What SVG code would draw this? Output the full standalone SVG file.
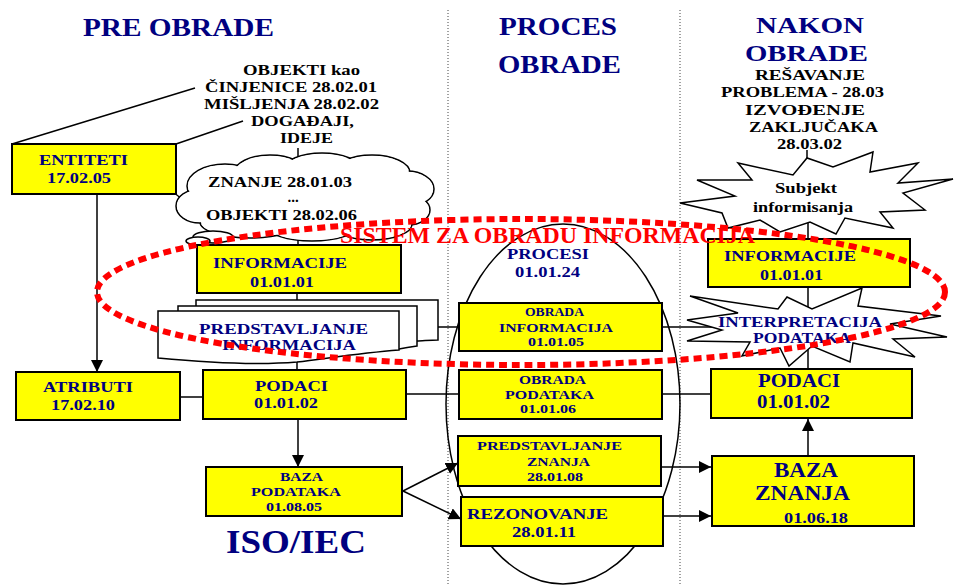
<svg xmlns="http://www.w3.org/2000/svg" width="956" height="586" viewBox="0 0 956 586">
<style>
.t{font-family:"Liberation Serif","Times New Roman","DejaVu Serif",serif;font-weight:bold;text-anchor:middle}
.nv{fill:#000080}
.bk{fill:#000}
.rd{fill:#FF0000}
.box{fill:#FFFF00;stroke:#000;stroke-width:2}
.ln{stroke:#000;stroke-width:1.5;fill:none}
.sh{fill:#fff;stroke:#000;stroke-width:1.5}
.dot{stroke:#444;stroke-width:1;stroke-dasharray:1 2;fill:none}
</style>
<defs>
<marker id="ah" viewBox="0 0 12 12" refX="12" refY="6" markerWidth="12" markerHeight="12" markerUnits="userSpaceOnUse" orient="auto">
<path d="M0,0 L12,6 L0,12 Z" fill="#000"/>
</marker>
</defs>
<rect width="956" height="586" fill="#fff"/>
<g id="dividers">
<line class="dot" x1="448" y1="10" x2="448" y2="586"/>
<line class="dot" x1="680" y1="10" x2="680" y2="586"/>
</g>
<g id="titles">
<text class="t nv" x="178.5" y="36" font-size="26" textLength="191" lengthAdjust="spacingAndGlyphs">PRE OBRADE</text>
<text class="t nv" x="558" y="35" font-size="26" textLength="118" lengthAdjust="spacingAndGlyphs">PROCES</text>
<text class="t nv" x="559.5" y="73" font-size="26" textLength="123" lengthAdjust="spacingAndGlyphs">OBRADE</text>
<text class="t nv" x="810" y="33" font-size="24" textLength="108" lengthAdjust="spacingAndGlyphs">NAKON</text>
<text class="t nv" x="806.5" y="61" font-size="24" textLength="123" lengthAdjust="spacingAndGlyphs">OBRADE</text>
<text class="t nv" x="296" y="553" font-size="33" textLength="140" lengthAdjust="spacingAndGlyphs">ISO/IEC</text>
</g>
<g id="notes">
<text class="t bk" x="810" y="80" font-size="14" textLength="110" lengthAdjust="spacingAndGlyphs">REŠAVANJE</text>
<text class="t bk" x="802.5" y="97" font-size="14" textLength="163" lengthAdjust="spacingAndGlyphs">PROBLEMA - 28.03</text>
<text class="t bk" x="805" y="115" font-size="14" textLength="120" lengthAdjust="spacingAndGlyphs">IZVOĐENJE</text>
<text class="t bk" x="813.5" y="132" font-size="14" textLength="129" lengthAdjust="spacingAndGlyphs">ZAKLJUČAKA</text>
<text class="t bk" x="809.5" y="149" font-size="14" textLength="65" lengthAdjust="spacingAndGlyphs">28.03.02</text>
<text class="t bk" x="301.5" y="75" font-size="15" textLength="117" lengthAdjust="spacingAndGlyphs">OBJEKTI kao</text>
<text class="t bk" x="291" y="92" font-size="15" textLength="172" lengthAdjust="spacingAndGlyphs">ČINJENICE 28.02.01</text>
<text class="t bk" x="291.5" y="109" font-size="15" textLength="175" lengthAdjust="spacingAndGlyphs">MIŠLJENJA 28.02.02</text>
<text class="t bk" x="302.5" y="126" font-size="15" textLength="103" lengthAdjust="spacingAndGlyphs">DOGAĐAJI,</text>
<text class="t bk" x="306.5" y="143" font-size="15" textLength="53" lengthAdjust="spacingAndGlyphs">IDEJE</text>
</g>
<ellipse id="procesi-ellipse" cx="563" cy="404" rx="117" ry="180" class="ln"/>
<g id="connectors">
<line class="ln" x1="12" y1="144" x2="195" y2="88"/>
<line class="ln" x1="176" y1="144" x2="243" y2="121"/>
<line class="ln" x1="298" y1="148" x2="298" y2="162"/>
<path class="ln" d="M170,190 Q185,200 195,214"/>
<line class="ln" x1="298" y1="226" x2="298" y2="245"/>
<line class="ln" x1="297" y1="293" x2="297" y2="302"/>
<line class="ln" x1="297" y1="360" x2="297" y2="370"/>
<line class="ln" x1="402" y1="327" x2="460" y2="327"/>
<line class="ln" x1="175" y1="397" x2="208" y2="397"/>
<line class="ln" x1="406" y1="394" x2="460" y2="394"/>
<line class="ln" x1="662" y1="327" x2="715" y2="327"/>
<line class="ln" x1="662" y1="394" x2="711" y2="394"/>
<line class="ln" x1="807" y1="150" x2="807" y2="165"/>
<line class="ln" x1="808" y1="220" x2="808" y2="239"/>
<line class="ln" x1="808" y1="287" x2="808" y2="369"/>
<line class="ln" x1="97" y1="194" x2="97" y2="372" marker-end="url(#ah)"/>
<line class="ln" x1="298" y1="420" x2="298" y2="467" marker-end="url(#ah)"/>
<line class="ln" x1="403" y1="491" x2="458" y2="463" marker-end="url(#ah)"/>
<line class="ln" x1="403" y1="491" x2="461" y2="519" marker-end="url(#ah)"/>
<line class="ln" x1="662" y1="467" x2="711" y2="467" marker-end="url(#ah)"/>
<line class="ln" x1="664" y1="516" x2="711" y2="516" marker-end="url(#ah)"/>
<line class="ln" x1="808" y1="455" x2="808" y2="419" marker-end="url(#ah)"/>
</g>
<g id="cloud-znanje">
<g class="sh">
<ellipse cx="225" cy="186" rx="38" ry="22"/>
<ellipse cx="270" cy="173" rx="36" ry="18"/>
<ellipse cx="322" cy="169" rx="38" ry="16"/>
<ellipse cx="372" cy="173" rx="38" ry="18"/>
<ellipse cx="407" cy="189" rx="27" ry="18"/>
<ellipse cx="408" cy="210" rx="22" ry="15"/>
<ellipse cx="372" cy="224" rx="40" ry="16"/>
<ellipse cx="312" cy="226" rx="45" ry="15"/>
<ellipse cx="250" cy="222" rx="50" ry="16"/>
<ellipse cx="200" cy="206" rx="24" ry="17"/>
</g>
<g fill="#fff">
<ellipse cx="225" cy="186" rx="37" ry="21"/>
<ellipse cx="270" cy="173" rx="35" ry="17"/>
<ellipse cx="322" cy="169" rx="37" ry="15"/>
<ellipse cx="372" cy="173" rx="37" ry="17"/>
<ellipse cx="407" cy="189" rx="26" ry="17"/>
<ellipse cx="408" cy="210" rx="21" ry="14"/>
<ellipse cx="372" cy="224" rx="39" ry="15"/>
<ellipse cx="312" cy="226" rx="44" ry="14"/>
<ellipse cx="250" cy="222" rx="49" ry="15"/>
<ellipse cx="200" cy="206" rx="23" ry="16"/>
<rect x="205" y="180" width="200" height="40"/>
</g>
<ellipse class="sh" cx="213" cy="237" rx="20" ry="6"/>
<ellipse class="sh" cx="198" cy="241" rx="12" ry="4"/>
<text class="t bk" x="280" y="187" font-size="15" textLength="144" lengthAdjust="spacingAndGlyphs">ZNANJE 28.01.03</text>
<text class="t bk" x="293" y="202" font-size="15">...</text>
<text class="t bk" x="281.5" y="220" font-size="15" textLength="151" lengthAdjust="spacingAndGlyphs">OBJEKTI 28.02.06</text>
</g>
<g id="entiteti">
<rect class="box" x="12" y="144" width="164" height="50"/>
<text class="t nv" x="83.5" y="165" font-size="15" textLength="89" lengthAdjust="spacingAndGlyphs">ENTITETI</text>
<text class="t nv" x="79" y="183" font-size="15" textLength="64" lengthAdjust="spacingAndGlyphs">17.02.05</text>
</g>
<g id="informacije-pre">
<rect class="box" x="197" y="245" width="204" height="48"/>
<text class="t nv" x="280" y="268" font-size="15" textLength="134" lengthAdjust="spacingAndGlyphs">INFORMACIJE</text>
<text class="t nv" x="282" y="287" font-size="15" textLength="64" lengthAdjust="spacingAndGlyphs">01.01.01</text>
</g>
<g id="predstavljanje-informacija">
<path class="sh" d="M196,300 H438 V340 C430,340 422,341 417,341 L196,341 Z"/>
<path class="sh" d="M178,306 H417 V346 C410,347 404,348 399,349 L178,349 Z"/>
<path class="sh" d="M158,311 H399 V350 C360,353 330,358 297,362 C250,366 200,362 158,358 Z"/>
<text class="t nv" x="283.5" y="334" font-size="15" textLength="169" lengthAdjust="spacingAndGlyphs">PREDSTAVLJANJE</text>
<text class="t nv" x="289" y="350" font-size="15" textLength="134" lengthAdjust="spacingAndGlyphs">INFORMACIJA</text>
</g>
<g id="atributi">
<rect class="box" x="16" y="372" width="164" height="48"/>
<text class="t nv" x="88" y="392" font-size="15" textLength="90" lengthAdjust="spacingAndGlyphs">ATRIBUTI</text>
<text class="t nv" x="83" y="410" font-size="15" textLength="64" lengthAdjust="spacingAndGlyphs">17.02.10</text>
</g>
<g id="podaci-pre">
<rect class="box" x="203" y="370" width="203" height="49"/>
<text class="t nv" x="291.5" y="391" font-size="15" textLength="73" lengthAdjust="spacingAndGlyphs">PODACI</text>
<text class="t nv" x="286" y="408" font-size="15" textLength="64" lengthAdjust="spacingAndGlyphs">01.01.02</text>
</g>
<g id="baza-podataka">
<rect class="box" x="206" y="467" width="196" height="49"/>
<text class="t nv" x="301.5" y="481" font-size="12" textLength="43" lengthAdjust="spacingAndGlyphs">BAZA</text>
<text class="t nv" x="296" y="496" font-size="12" textLength="90" lengthAdjust="spacingAndGlyphs">PODATAKA</text>
<text class="t nv" x="294" y="511" font-size="12" textLength="56" lengthAdjust="spacingAndGlyphs">01.08.05</text>
</g>
<g id="procesi">
<text class="t nv" x="548" y="259" font-size="14" textLength="82" lengthAdjust="spacingAndGlyphs">PROCESI</text>
<text class="t nv" x="547.5" y="277" font-size="14" textLength="65" lengthAdjust="spacingAndGlyphs">01.01.24</text>
</g>
<g id="obrada-informacija">
<rect class="box" x="459" y="303" width="203" height="48"/>
<text class="t nv" x="554.5" y="316" font-size="12" textLength="59" lengthAdjust="spacingAndGlyphs">OBRADA</text>
<text class="t nv" x="556" y="332" font-size="12" textLength="114" lengthAdjust="spacingAndGlyphs">INFORMACIJA</text>
<text class="t nv" x="556" y="346" font-size="12" textLength="56" lengthAdjust="spacingAndGlyphs">01.01.05</text>
</g>
<g id="obrada-podataka">
<rect class="box" x="459" y="370" width="203" height="49"/>
<text class="t nv" x="552.5" y="384" font-size="12" textLength="67" lengthAdjust="spacingAndGlyphs">OBRADA</text>
<text class="t nv" x="549.5" y="399" font-size="12" textLength="89" lengthAdjust="spacingAndGlyphs">PODATAKA</text>
<text class="t nv" x="548" y="413" font-size="12" textLength="56" lengthAdjust="spacingAndGlyphs">01.01.06</text>
</g>
<g id="predstavljanje-znanja">
<rect class="box" x="458" y="436" width="203" height="50"/>
<text class="t nv" x="549.5" y="450" font-size="12" textLength="145" lengthAdjust="spacingAndGlyphs">PREDSTAVLJANJE</text>
<text class="t nv" x="558.5" y="466" font-size="12" textLength="63" lengthAdjust="spacingAndGlyphs">ZNANJA</text>
<text class="t nv" x="555" y="481" font-size="12" textLength="56" lengthAdjust="spacingAndGlyphs">28.01.08</text>
</g>
<g id="rezonovanje">
<rect class="box" x="461" y="497" width="202" height="49"/>
<text class="t nv" x="537.5" y="519" font-size="15" textLength="141" lengthAdjust="spacingAndGlyphs">REZONOVANJE</text>
<text class="t nv" x="544" y="537" font-size="15" textLength="64" lengthAdjust="spacingAndGlyphs">28.01.11</text>
</g>
<g id="subjekt-informisanja">
<path class="sh" d="M680,203 L735,196 L697,180 L752,180 L738,163 L793,175 L807,158 L833,167 L873,152 L870,172 L918,163 L898,183 L953,179 L903,193 L925,210 L880,212 L893,228 L845,218 L836,234 L810,222 L780,232 L760,220 L728,228 L722,213 Z"/>
<text class="t bk" x="806" y="193" font-size="15" textLength="62" lengthAdjust="spacingAndGlyphs">Subjekt</text>
<text class="t bk" x="803" y="212" font-size="15" textLength="100" lengthAdjust="spacingAndGlyphs">informisanja</text>
</g>
<g id="informacije-nakon">
<rect class="box" x="708" y="239" width="202" height="48"/>
<text class="t nv" x="790" y="261" font-size="15" textLength="132" lengthAdjust="spacingAndGlyphs">INFORMACIJE</text>
<text class="t nv" x="791.5" y="280" font-size="15" textLength="63" lengthAdjust="spacingAndGlyphs">01.01.01</text>
</g>
<g id="interpretacija-podataka">
<path class="sh" d="M690,296 L778,309 L787,297 L812,309 L862,288 L858,306 L941,316 L890,324 L947,337 L893,339 L915,357 L853,343 L850,362 L812,346 L789,366 L780,348 L742,356 L750,342 L687,341 L722,330 L687,320 L738,313 Z"/>
<text class="t nv" x="800" y="327" font-size="15" textLength="164" lengthAdjust="spacingAndGlyphs">INTERPRETACIJA</text>
<text class="t nv" x="802" y="343" font-size="15" textLength="98" lengthAdjust="spacingAndGlyphs">PODATAKA</text>
</g>
<g id="podaci-nakon">
<rect class="box" x="711" y="369" width="201" height="49"/>
<text class="t nv" x="799" y="387" font-size="19" textLength="82" lengthAdjust="spacingAndGlyphs">PODACI</text>
<text class="t nv" x="793.5" y="408" font-size="19" textLength="73" lengthAdjust="spacingAndGlyphs">01.01.02</text>
</g>
<g id="baza-znanja">
<rect class="box" x="712" y="456" width="202" height="70"/>
<text class="t nv" x="806" y="477" font-size="21" textLength="64" lengthAdjust="spacingAndGlyphs">BAZA</text>
<text class="t nv" x="802.5" y="500" font-size="21" textLength="95" lengthAdjust="spacingAndGlyphs">ZNANJA</text>
<text class="t nv" x="816" y="523" font-size="15" textLength="64" lengthAdjust="spacingAndGlyphs">01.06.18</text>
</g>
<g id="sistem-za-obradu-informacija">
<ellipse cx="521" cy="292" rx="424" ry="73" fill="none" stroke="#FF0000" stroke-width="6" stroke-dasharray="8 5"/>
<text class="t rd" x="547.5" y="243" font-size="24" textLength="415" lengthAdjust="spacingAndGlyphs">SISTEM ZA OBRADU INFORMACIJA</text>
</g>
</svg>
